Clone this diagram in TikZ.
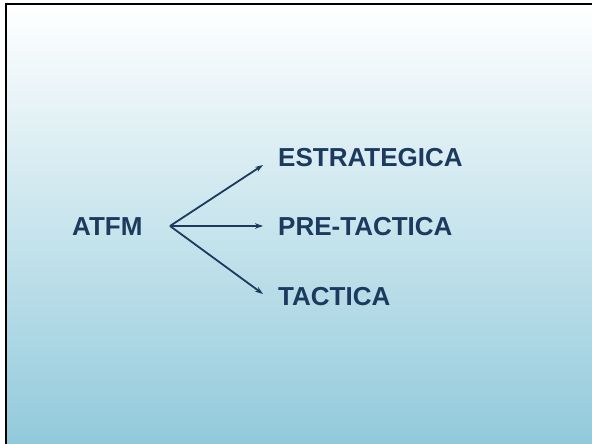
\documentclass[tikz,border=0pt]{standalone}
\usepackage{fontspec}
\setmainfont{Liberation Sans}
\usepackage{tikz}
\usetikzlibrary{arrows.meta}
\usepackage{xcolor}
\definecolor{navy}{HTML}{1B3A5E}
\definecolor{skyblue}{HTML}{92CADB}

\begin{document}
\begin{tikzpicture}[x=1pt,y=1pt,>={Stealth[length=8pt,width=5.5pt]}]
    \tikzset{label/.style={anchor=west,text=navy,font=\fontsize{26}{31}\selectfont\bfseries,
        inner xsep=0pt,inner ysep=0pt}}
    \useasboundingbox (0,0) rectangle (592,444);
    \fill[white] (0,0) rectangle (592,444);
    \shade[top color=white,bottom color=skyblue] (5.5,0) rectangle (592,439.5);
    \draw[line width=2pt,line cap=rect] (5.5,0) -- (5.5,439.5) -- (592,439.5);
    % items
    \node[label] (atfm) at (72,217) {ATFM};
    \node[label,inner xsep=15pt] (est) at (263,286) {ESTRATEGICA};
    \node[label,inner xsep=15pt] (pre) at (263,217) {PRE-TACTICA};
    \node[label,inner xsep=15pt] (tac) at (263,147.5) {TACTICA};
    \coordinate (fork) at (170,218);
    \draw[->,navy,line width=1.8pt] (fork) -- ([yshift=-7pt]est.west);
    \draw[->,navy,line width=1.8pt] (fork) -- (pre.west |- fork);
    \draw[->,navy,line width=1.8pt] (fork) -- ([yshift=2.5pt]tac.west);
\end{tikzpicture}
\end{document}
